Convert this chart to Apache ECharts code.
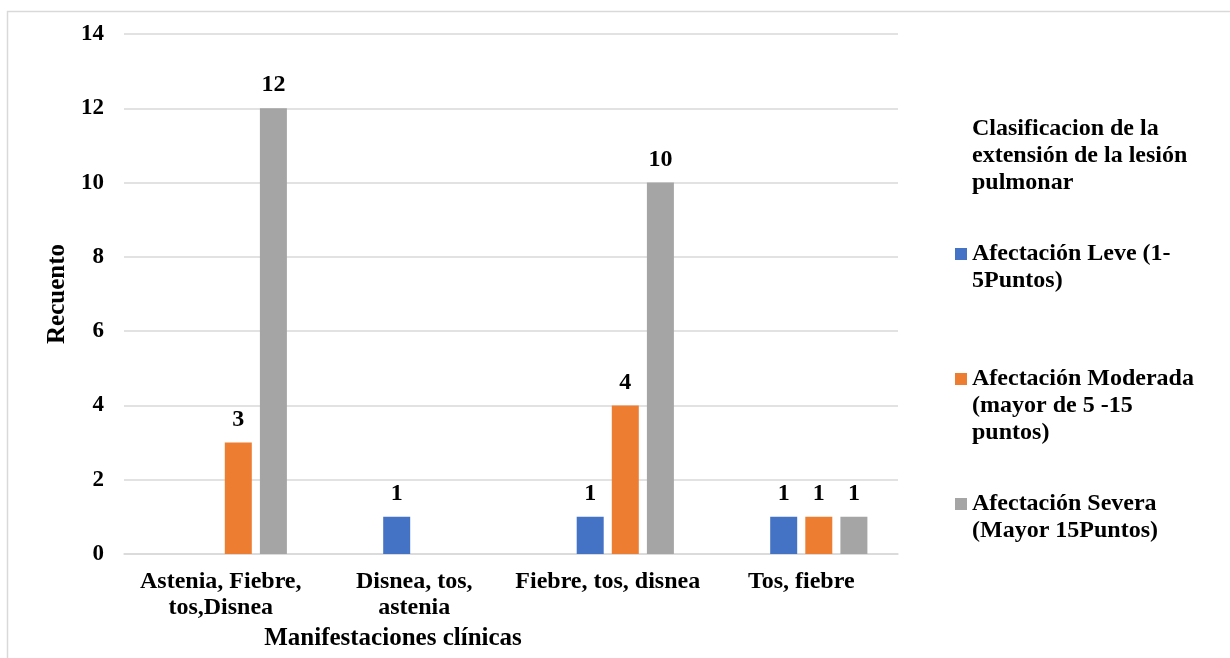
<!DOCTYPE html>
<html>
<head>
<meta charset="utf-8">
<script src="https://cdn.jsdelivr.net/npm/echarts@6/dist/echarts.min.js"></script>
<style>
html,body{margin:0;padding:0;background:#fff;}
#chart{width:1230px;height:658px;}
</style>
</head>
<body>
<div id="chart"></div>
<script>
const categories = ['Astenia, Fiebre,\ntos,Disnea', 'Disnea, tos,\nastenia', 'Fiebre, tos, disnea', 'Tos, fiebre'];
const seriesNames = ['Afectación Leve (1-5Puntos)', 'Afectación Moderada (mayor de 5 -15 puntos)', 'Afectación Severa (Mayor 15Puntos)'];
const legendLabels = ['Afectación Leve (1-\n5Puntos)', 'Afectación Moderada\n(mayor de 5 -15\npuntos)', 'Afectación Severa\n(Mayor 15Puntos)'];
const emptySeries = [null, null, null, null];
const leve = [null, 1, 1, 1];
const moderada = [3, null, 4, 1];
const severa = [12, null, 10, 1];
const yTicks = [0, 2, 4, 6, 8, 10, 12, 14];
const legendTitle = 'Clasificacion de la\nextensión de la lesión\npulmonar';
const colors = ['#4472C4', '#ED7D31', '#A5A5A5'];

const FONT = '"Liberation Serif", "Times New Roman", serif';
const LH = 27;
const iconCenters = [254, 379, 504];

const labelStyle = {
  show: true, position: 'top', distance: 11,
  fontFamily: FONT, fontWeight: 'bold', fontSize: 24, color: '#000'
};

function barSeries(name, data, color) {
  return {
    name: name, type: 'bar', data: data, barWidth: 27, barGap: '30%',
    itemStyle: { color: color }, label: labelStyle
  };
}

const legends = seriesNames.map((n, i) => {
  const lines = legendLabels[i].split('\n').length;
  const boxH = (2 * lines - 1) * LH;
  return {
    data: [n], orient: 'vertical', left: 955, top: iconCenters[i] - boxH / 2,
    padding: 0, itemWidth: 12, itemHeight: 12, icon: 'rect', itemGap: 0,
    selectedMode: false,
    formatter: function (name) {
      const t = legendLabels[seriesNames.indexOf(name)];
      const k = t.split('\n').length - 1;
      return '\u00a0\n'.repeat(k) + t;
    },
    textStyle: {
      fontFamily: FONT, fontWeight: 'bold', fontSize: 24, color: '#000', lineHeight: LH
    }
  };
});

const chart = echarts.init(document.getElementById('chart'), null, { renderer: 'canvas' });
chart.setOption({
  animation: false,
  backgroundColor: '#fff',
  color: colors,
  title: {
    text: legendTitle, left: 972, top: 115, padding: 0,
    textStyle: { fontFamily: FONT, fontWeight: 'bold', fontSize: 24, color: '#000', lineHeight: LH }
  },
  legend: legends,
  graphic: [{
    type: 'rect', silent: true, z: -1,
    shape: { x: 7.5, y: 11.5, width: 1300, height: 700 },
    style: { fill: 'none', stroke: '#d9d9d9', lineWidth: 1.5 }
  }],
  grid: { left: 124, right: 332, top: 34, bottom: 104, containLabel: false },
  xAxis: {
    type: 'category', data: categories,
    name: 'Manifestaciones clínicas', nameLocation: 'middle', nameGap: 64,
    nameTextStyle: { fontFamily: FONT, fontWeight: 'bold', fontSize: 25, color: '#000', padding: [0, 236, 0, 0] },
    axisLine: { lineStyle: { color: '#d9d9d9', width: 1.5 } },
    axisTick: { show: false },
    axisLabel: { fontFamily: FONT, fontWeight: 'bold', fontSize: 24, color: '#000', lineHeight: 26, margin: 15, interval: 0 }
  },
  yAxis: {
    type: 'value', min: yTicks[0], max: yTicks[yTicks.length - 1], interval: 2,
    name: 'Recuento', nameLocation: 'middle', nameGap: 54,
    nameTextStyle: { fontFamily: FONT, fontWeight: 'bold', fontSize: 25, color: '#000' },
    axisLine: { show: false }, axisTick: { show: false },
    splitLine: { lineStyle: { color: '#d9d9d9', width: 1.5 } },
    axisLabel: { fontFamily: FONT, fontWeight: 'bold', fontSize: 23, color: '#000', margin: 20 }
  },
  series: [
    { name: '(vacío)', type: 'bar', data: emptySeries, barWidth: 27, barGap: '30%', silent: true },
    barSeries(seriesNames[0], leve, colors[0]),
    barSeries(seriesNames[1], moderada, colors[1]),
    barSeries(seriesNames[2], severa, colors[2])
  ]
});
</script>
</body>
</html>
